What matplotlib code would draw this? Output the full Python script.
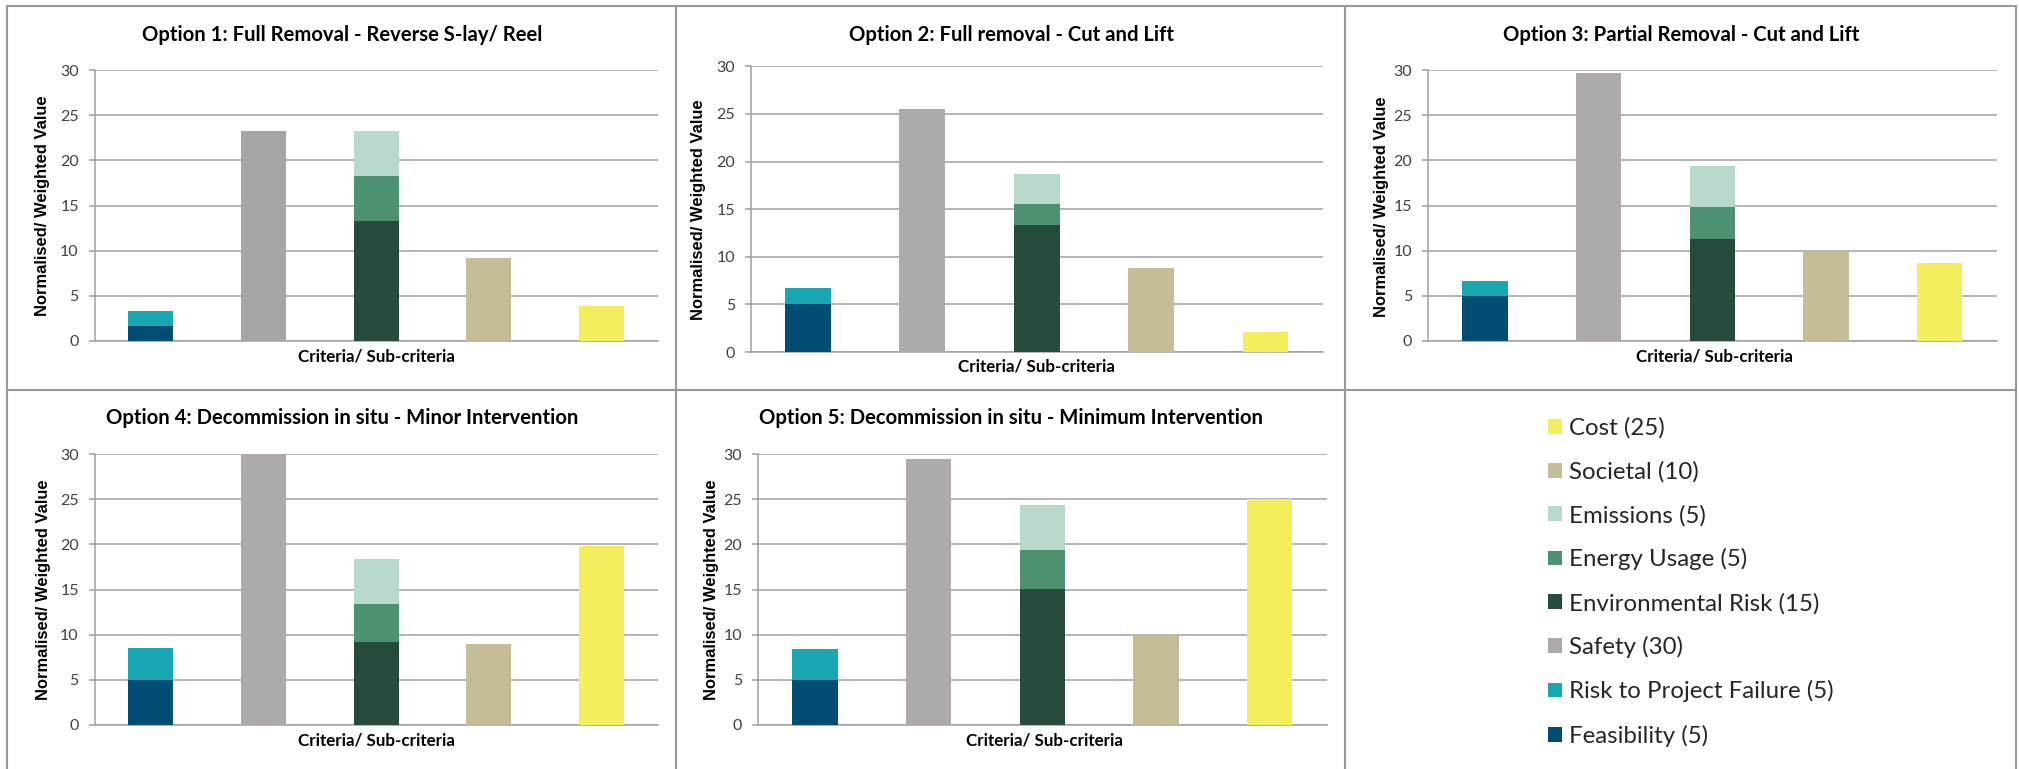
import matplotlib
matplotlib.use("Agg")
import matplotlib.pyplot as plt
from matplotlib.patches import Patch
from matplotlib.lines import Line2D

# ---------------- data ----------------
options = [
    "Option 1: Full Removal - Reverse S-lay/ Reel",
    "Option 2: Full removal - Cut and Lift",
    "Option 3: Partial Removal - Cut and Lift",
    "Option 4: Decommission in situ - Minor Intervention",
    "Option 5: Decommission in situ - Minimum Intervention",
]
categories = ["Technical", "Safety", "Environmental", "Societal", "Economic"]

series_names = [
    "Feasibility (5)",
    "Risk to Project Failure (5)",
    "Safety (30)",
    "Environmental Risk (15)",
    "Energy Usage (5)",
    "Emissions (5)",
    "Societal (10)",
    "Cost (25)",
]
series_category = [0, 0, 1, 2, 2, 2, 3, 4]

feasibility = [1.67, 5.0, 5.0, 5.0, 5.0]
risk_failure = [1.67, 1.72, 1.65, 3.5, 3.37]
safety = [23.3, 25.5, 29.7, 30.0, 29.5]
env_risk = [13.3, 13.3, 11.3, 9.2, 15.05]
energy_usage = [5.0, 2.25, 3.55, 4.2, 4.35]
emissions = [5.0, 3.15, 4.5, 5.0, 4.95]
societal = [9.15, 8.8, 10.0, 8.95, 10.0]
cost = [3.85, 2.1, 8.6, 19.8, 25.0]

series_values = [feasibility, risk_failure, safety, env_risk,
                 energy_usage, emissions, societal, cost]

series_colors = ["#024D74", "#18A7B3", "#AEAAAA", "#274B3A",
                 "#4E9170", "#B8D9C9", "#C5BD97", "#F3EE5E"]
safety_color_opt1 = "#A6A6A6"

y_ticks = [0, 5, 10, 15, 20, 25, 30]
x_label = "Criteria/ Sub-criteria"
y_label = "Normalised/ Weighted Value"

# ---------------- layout (pixels) ----------------
W, H = 2019, 769
fig = plt.figure(figsize=(W / 100, H / 100), dpi=100)


def fx(x):
    return x / W


def fy(y):
    return 1 - y / H


axes_px = [(94.5, 70.3, 658, 340.7), (750.7, 66.3, 1322.6, 352),
           (1428, 70.3, 1996.5, 340.7), (94.5, 454.3, 658, 724.7),
           (758, 454.3, 1326.5, 724.7)]
title_px = [(342.6, 35), (1011.5, 35), (1680.8, 35), (342, 418.3), (1011, 418)]
xlabel_px = [(376.4, 356), (1036, 367), (1714.7, 356), (376.4, 740), (1044.7, 740)]
ylabel_px = [(43, 206), (698.5, 210), (1381.5, 206.5), (43.4, 590), (711.5, 590)]

GRID = "#A0A0A0"
BORDER = "#999999"
BODY = "Lato"

renderer = fig.canvas.get_renderer()


def fit(t, target, vertical=False):
    bb = t.get_window_extent(renderer)
    cur = bb.height if vertical else bb.width
    t.set_fontsize(t.get_fontsize() * target / cur)
    return t.get_fontsize()


# measure font sizes once
tmp = fig.text(0, 0, options[0], fontsize=15, fontweight="bold", family=BODY)
title_fs = fit(tmp, 403)
tmp.remove()
tmp = fig.text(0, 0, x_label, fontsize=12, fontweight="bold", family=BODY)
xl_fs = fit(tmp, 156)
tmp.remove()
tmp = fig.text(0, 0, y_label, fontsize=11, fontweight="bold",
               family="Liberation Sans", rotation=90)
yl_fs = fit(tmp, 222, vertical=True)
tmp.remove()

for i in range(len(options)):
    l, t, r, b = axes_px[i]
    ax = fig.add_axes([fx(l), fy(b), fx(r) - fx(l), fy(t) - fy(b)])
    bottoms = [0.0] * len(categories)
    for s, name in enumerate(series_names):
        c = series_category[s]
        v = series_values[s][i]
        col = series_colors[s]
        if name.startswith("Safety") and i == 0:
            col = safety_color_opt1
        ax.bar(c, v, width=0.4, bottom=bottoms[c], color=col, zorder=3,
               linewidth=0)
        bottoms[c] += v
    ax.set_xlim(-0.5, len(categories) - 0.5)
    ax.set_ylim(0, 30)
    ax.set_yticks(y_ticks)
    ax.set_xticks([])
    ax.yaxis.grid(True, color=GRID, linewidth=1.1, zorder=0)
    ax.set_axisbelow(True)
    for sp in ["top", "right"]:
        ax.spines[sp].set_visible(False)
    for sp in ["left", "bottom"]:
        ax.spines[sp].set_color(GRID)
        ax.spines[sp].set_linewidth(1.1)
    ax.tick_params(axis="y", length=4.3, width=1.1, color=GRID, pad=7,
                   labelsize=11.5, labelcolor="#404040")
    for lab in ax.get_yticklabels():
        lab.set_family(BODY)

    fig.text(fx(title_px[i][0]), fy(title_px[i][1]), options[i],
             ha="center", va="center", fontsize=title_fs, fontweight="bold",
             family=BODY, color="black")
    fig.text(fx(xlabel_px[i][0]), fy(xlabel_px[i][1]), x_label,
             ha="center", va="center", fontsize=xl_fs, fontweight="bold",
             family=BODY, color="black")
    fig.text(fx(ylabel_px[i][0]), fy(ylabel_px[i][1]), y_label,
             ha="center", va="center", rotation=90, fontsize=yl_fs,
             fontweight="bold", family="Liberation Sans", color="black")

# ---------------- legend ----------------
tmp = fig.text(0, 0, "Environmental Risk (15)", fontsize=16, family=BODY)
leg_fs = fit(tmp, 250)
tmp.remove()
fs_px = leg_fs * 100 / 72
order = list(range(len(series_names)))[::-1]
handles = [Patch(facecolor=series_colors[k], edgecolor="none") for k in order]
labels = [series_names[k] for k in order]


def make_legend(spacing, anchor_y):
    return fig.legend(handles, labels, loc="upper left",
                      bbox_to_anchor=(fx(1548), fy(anchor_y)),
                      frameon=False, prop={"family": BODY, "size": leg_fs},
                      handlelength=14 / fs_px, handleheight=14 / fs_px,
                      handletextpad=6.5 / fs_px, labelspacing=spacing,
                      borderaxespad=0, borderpad=0, labelcolor="#262626")


spacing = 1.0
anchor = 412
leg = make_legend(spacing, anchor)
for _ in range(3):
    fig.canvas.draw()
    texts = leg.get_texts()
    b0 = texts[0].get_window_extent(renderer)
    b1 = texts[-1].get_window_extent(renderer)
    c0 = H - (b0.y0 + b0.y1) / 2
    c1 = H - (b1.y0 + b1.y1) / 2
    pitch = (c1 - c0) / 7
    spacing += (43.9 - pitch) / fs_px
    anchor += 428.3 - c0
    leg.remove()
    leg = make_legend(spacing, anchor)

# ---------------- panel borders (no bottom edge) ----------------
lw = 1.5
border_lines = [
    ([7, 7], [6, 769]),
    ([2016, 2016], [6, 769]),
    ([7, 2016], [6, 6]),
    ([7, 2016], [390, 390]),
    ([676, 676], [6, 769]),
    ([1345, 1345], [6, 769]),
]
for xs, ys in border_lines:
    fig.add_artist(Line2D([fx(v) for v in xs], [fy(v) for v in ys],
                          transform=fig.transFigure, color=BORDER,
                          linewidth=lw))

fig.savefig("out.png", dpi=100, facecolor="white")
